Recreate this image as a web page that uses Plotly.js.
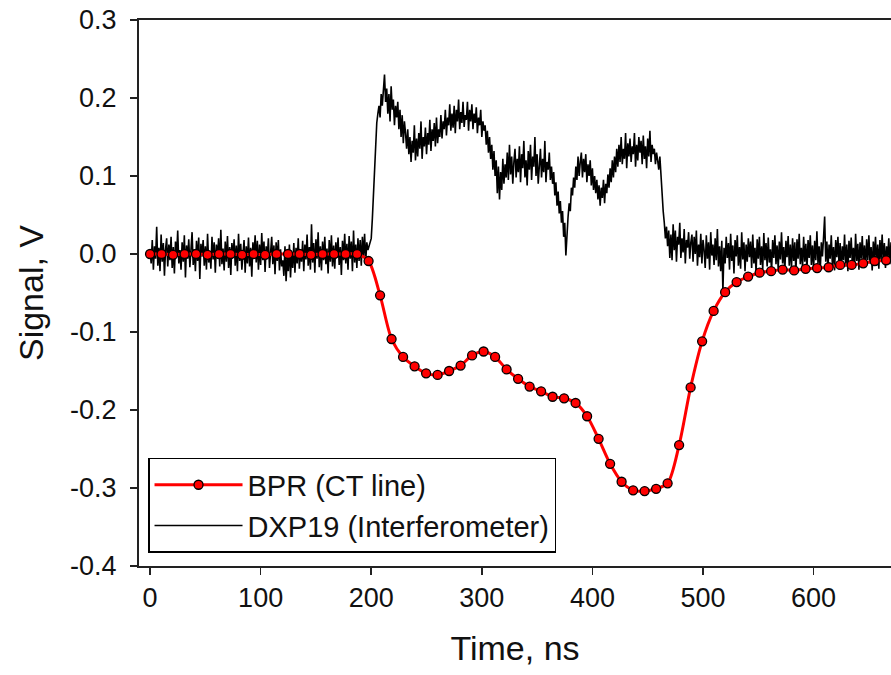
<!DOCTYPE html>
<html>
<head>
<meta charset="utf-8">
<script src="https://cdn.plot.ly/plotly-3.0.1.min.js"></script>
<style>html,body{margin:0;padding:0;background:#fff;}#chart{width:891px;height:675px;}</style>
</head>
<body>
<div id="chart"></div>
<script>
// BPR (CT line): sample times (ns) and signal (V)
const bprTime = [0,10.4,20.8,31.2,41.6,52,62.4,72.8,83.2,93.6,104,114.4,124.8,135.2,145.6,156,166.4,176.8,187.2,197.6,
  208,218.4,228.8,239.2,249.6,260,270.4,280.8,291.2,301.6,312,322.4,332.8,343.2,353.6,364,374.4,384.8,395.2,405.6,
  416,426.4,436.8,447.2,457.6,468,478.4,488.8,499.2,509.6,520,530.4,540.8,551.2,561.6,572,582.4,592.8,603.2,613.6,
  624,634.4,644.8,655.2,665.6,676];
const bprSignal = [0.000,0.000,-0.001,0.000,0.000,-0.001,0.000,0.000,-0.001,0.000,-0.001,0.000,0.000,0.000,-0.001,0.000,0.000,0.000,0.000,-0.009,
  -0.053,-0.109,-0.132,-0.144,-0.153,-0.155,-0.150,-0.143,-0.130,-0.125,-0.132,-0.148,-0.160,-0.170,-0.176,-0.183,-0.185,-0.191,-0.208,-0.237,
  -0.269,-0.292,-0.303,-0.304,-0.301,-0.294,-0.245,-0.171,-0.112,-0.073,-0.049,-0.036,-0.029,-0.024,-0.022,-0.020,-0.021,-0.019,-0.018,-0.017,
  -0.014,-0.014,-0.012,-0.009,-0.008,-0.007];

// DXP19 (Interferometer): sampled every 1 ns starting at 0 ns
const dxpStart = 0;
const dxpStep = 1;
const dxpSignal = [
 0.004,-0.012,0.018,-0.020,0.010,-0.006,0.035,-0.015,0.008,-0.022,
 0.025,-0.010,0.014,-0.028,0.006,0.020,-0.016,0.012,-0.008,0.022,
 -0.018,0.009,-0.025,0.016,-0.004,0.030,-0.012,0.005,-0.020,0.015,
 -0.010,0.024,-0.030,0.011,-0.006,0.019,-0.017,0.008,0.028,-0.014,
 0.006,-0.022,0.017,-0.009,0.021,-0.032,0.013,-0.003,0.018,-0.015,
 0.010,-0.020,0.026,-0.011,0.004,-0.019,0.022,-0.007,0.015,-0.024,
 0.012,-0.005,0.020,-0.016,0.031,-0.013,0.007,-0.021,0.016,-0.010,
 0.023,-0.018,0.009,-0.027,0.014,-0.004,0.019,-0.015,0.011,-0.022,
 0.026,-0.009,0.013,-0.020,0.005,0.018,-0.024,0.010,-0.012,0.021,
 -0.016,0.008,-0.029,0.015,-0.006,0.024,-0.011,0.017,-0.020,0.012,
 -0.014,0.027,-0.008,0.016,-0.023,0.010,-0.005,0.020,-0.018,0.007,
 0.022,-0.013,0.011,-0.026,0.015,-0.009,0.018,-0.021,0.006,-0.016,
 -0.008,-0.028,0.010,-0.035,-0.004,-0.022,0.012,-0.030,0.002,-0.018,
 0.014,-0.024,0.008,-0.012,0.020,-0.019,0.006,-0.010,0.017,-0.022,
 0.012,-0.007,0.025,-0.015,0.009,-0.020,0.038,-0.011,0.014,-0.024,
 0.019,-0.006,0.028,-0.017,0.010,-0.021,0.016,-0.008,0.022,-0.013,
 0.007,-0.025,0.018,-0.010,0.024,-0.016,0.011,-0.019,0.015,-0.005,
 0.021,-0.014,0.009,-0.027,0.017,-0.008,0.026,-0.012,0.013,-0.020,
 0.023,-0.006,0.016,-0.022,0.030,-0.011,0.012,-0.018,0.020,-0.009,
 0.018,-0.015,0.022,-0.004,0.026,-0.010,0.015,0.005,
 0.010,0.012,0.020,0.045,0.080,0.115,0.150,0.168,0.180,0.190,0.175,0.205,0.190,0.215,0.230,
 0.195,0.212,0.180,0.205,0.170,0.215,0.185,0.198,0.165,0.190,
 0.175,0.195,0.160,0.185,0.150,0.178,0.142,0.170,0.155,0.135,
 0.160,0.128,0.150,0.118,0.145,0.130,0.165,0.120,0.148,0.125,
 0.155,0.135,0.170,0.122,0.150,0.138,0.162,0.128,0.155,0.140,
 0.172,0.132,0.160,0.145,0.168,0.138,0.175,0.142,0.160,0.150,
 0.178,0.148,0.170,0.160,0.185,0.152,0.175,0.165,0.192,0.158,
 0.180,0.162,0.190,0.155,0.185,0.170,0.198,0.160,0.182,0.168,
 0.195,0.163,0.178,0.172,0.195,0.158,0.185,0.170,0.192,0.160,
 0.180,0.168,0.188,0.155,0.175,0.165,0.185,0.150,0.170,0.158,
 0.165,0.140,0.158,0.130,0.150,0.122,0.140,0.108,0.132,0.100,
 0.120,0.078,0.112,0.070,0.105,0.082,0.122,0.090,0.115,0.098,
 0.130,0.095,0.140,0.102,0.125,0.090,0.118,0.135,0.098,0.122,
 0.105,0.138,0.092,0.128,0.110,0.145,0.098,0.120,0.088,0.132,
 0.108,0.140,0.095,0.125,0.112,0.150,0.100,0.128,0.090,0.118,
 0.135,0.098,0.122,0.105,0.145,0.092,0.118,0.108,0.130,0.095,
 0.112,0.090,0.105,0.075,0.092,0.062,0.080,0.052,0.068,0.040,
 0.055,0.022,0.040,-0.002,0.030,0.048,0.065,0.055,0.085,0.075,
 0.098,0.085,0.112,0.095,0.125,0.100,0.118,0.130,0.098,0.122,
 0.105,0.128,0.092,0.115,0.100,0.120,0.088,0.110,0.082,0.100,
 0.078,0.095,0.070,0.088,0.062,0.085,0.072,0.095,0.065,0.090,
 0.078,0.102,0.085,0.110,0.092,0.120,0.098,0.125,0.105,0.135,
 0.112,0.140,0.118,0.150,0.115,0.135,0.122,0.155,0.110,0.142,
 0.125,0.148,0.118,0.138,0.128,0.155,0.112,0.140,0.120,0.150,
 0.130,0.145,0.115,0.152,0.122,0.138,0.110,0.148,0.125,0.158,
 0.118,0.140,0.128,0.135,0.115,0.130,0.120,0.108,0.125,0.095,
 0.080,0.055,0.040,0.020,0.035,0.010,0.030,-0.005,
 0.025,-0.008,0.038,0.005,0.030,-0.010,0.022,0.012,0.040,-0.005,
 0.020,0.002,0.032,-0.012,0.018,0.008,0.028,-0.006,0.015,0.025,
 -0.010,0.022,0.000,0.030,-0.015,0.012,-0.004,0.026,-0.012,0.018,
 0.005,-0.018,0.024,-0.006,0.015,-0.020,0.028,-0.002,0.012,-0.014,
 0.020,-0.008,0.032,-0.016,0.010,-0.022,0.017,-0.048,0.008,-0.012,
 0.022,-0.005,0.014,-0.020,0.026,-0.009,0.011,-0.025,0.018,-0.003,
 0.024,-0.015,0.009,-0.019,0.028,-0.007,0.015,-0.022,0.012,-0.010,
 0.020,-0.004,0.016,-0.018,0.025,-0.012,0.008,-0.024,0.019,-0.006,
 0.022,-0.014,0.010,-0.020,0.027,-0.008,0.014,-0.016,0.021,-0.011,
 0.006,-0.023,0.018,-0.005,0.024,-0.013,0.011,-0.019,0.016,-0.007,
 0.028,-0.012,0.009,-0.021,0.017,-0.004,0.023,-0.015,0.012,-0.018,
 0.020,-0.009,0.015,-0.024,0.019,-0.006,0.026,-0.013,0.008,-0.017,
 0.022,-0.010,0.013,-0.020,0.018,-0.005,0.024,-0.014,0.011,-0.019,
 0.017,-0.008,0.029,-0.012,0.010,-0.022,0.015,-0.003,0.021,0.048,
 -0.010,0.016,-0.018,0.012,-0.006,0.024,-0.015,0.009,-0.021,0.018,
 -0.004,0.022,-0.013,0.014,-0.019,0.010,-0.008,0.025,-0.016,0.012,
 -0.022,0.017,-0.005,0.021,-0.012,0.008,-0.018,0.026,-0.009,0.013,
 -0.020,0.015,-0.006,0.023,-0.014,0.011,-0.017,0.019,-0.008,0.024,
 -0.012,0.009,-0.021,0.016,-0.004,0.022,-0.015,0.012,-0.019,0.018,
 -0.007,0.025,-0.011,0.014,-0.018,0.010,-0.005,0.020,-0.013,0.015
];
const dxpTime = dxpSignal.map((_, i) => dxpStart + i * dxpStep);

// Axis ticks
const xTickVals = [0,100,200,300,400,500,600];
const xTickText = ['0','100','200','300','400','500','600'];
const yTickVals = [0.3,0.2,0.1,0.0,-0.1,-0.2,-0.3,-0.4];
const yTickText = ['0.3','0.2','0.1','0.0','-0.1','-0.2','-0.3','-0.4'];

const FONT = 'Liberation Sans, Arial, Helvetica, sans-serif';

const traces = [
  {
    x: dxpTime, y: dxpSignal, type: 'scatter', mode: 'lines',
    name: 'DXP19 (Interferometer)',
    line: {color: '#000000', width: 1.6}
  },
  {
    x: bprTime, y: bprSignal, type: 'scatter', mode: 'lines+markers',
    name: 'BPR (CT line)',
    line: {color: '#ff0000', width: 3, shape: 'spline', smoothing: 0.8},
    marker: {color: '#ff0000', size: 9, line: {color: '#000000', width: 1.3}}
  }
];

const layout = {
  width: 891, height: 675,
  margin: {l: 139, r: 0, t: 20, b: 109},
  paper_bgcolor: '#ffffff', plot_bgcolor: '#ffffff',
  font: {family: FONT, color: '#111111', size: 27},
  showlegend: true,
  legend: {
    x: 0.012, y: 0.024, xanchor: 'left', yanchor: 'bottom',
    traceorder: 'reversed',
    bordercolor: '#000000', borderwidth: 1.5, bgcolor: '#ffffff',
    font: {family: FONT, size: 29, color: '#111111'},
    itemwidth: 88
  },
  xaxis: {
    range: [-10, 670],
    tickvals: xTickVals, ticktext: xTickText,
    ticks: 'outside', ticklen: 7, tickwidth: 1.5, tickcolor: '#222222',
    showline: true, linecolor: '#222222', linewidth: 2, mirror: true,
    showgrid: false, zeroline: false,
    tickfont: {family: FONT, size: 27, color: '#111111'},
    title: {text: 'Time, ns', font: {family: FONT, size: 34, color: '#111111'}, standoff: 24}
  },
  yaxis: {
    range: [-0.4, 0.3],
    tickvals: yTickVals, ticktext: yTickText,
    ticks: 'outside', ticklen: 7, tickwidth: 1.5, tickcolor: '#222222',
    showline: true, linecolor: '#222222', linewidth: 2, mirror: false,
    showgrid: false, zeroline: false,
    ticklabelstandoff: 8,
    tickfont: {family: FONT, size: 27, color: '#111111'},
    title: {text: 'Signal, V', font: {family: FONT, size: 34, color: '#111111'}, standoff: 16}
  }
};

Plotly.newPlot('chart', traces, layout, {displayModeBar: false, staticPlot: true});
</script>
</body>
</html>
